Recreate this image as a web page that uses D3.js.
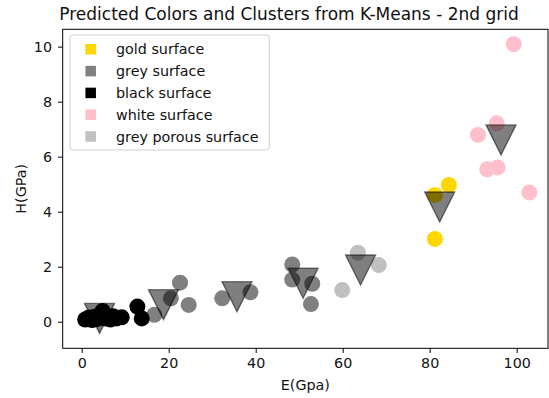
<!DOCTYPE html>
<html>
<head>
<meta charset="utf-8">
<script src="https://cdn.jsdelivr.net/npm/d3@7"></script>
<style>
    body { margin: 0; background: #fff; }
    svg { display: block; font-family: "DejaVu Sans", sans-serif; }
</style>
</head>
<body>
<div class="canvas"></div>
<script>
// values: [E(Gpa), H(GPa)]
const goldPoints = [[81.2, 4.61], [84.4, 4.97], [81.2, 3.01]];
const greyPoints = [[16.7, 0.25], [20.5, 0.85], [22.6, 1.42], [24.6, 0.61], [32.3, 0.85],
    [38.8, 1.07], [48.4, 2.08], [48.4, 1.53], [53.0, 1.38], [52.7, 0.64]];
const blackPoints = [[0.8, 0.08], [1.6, 0.15], [2.4, 0.06], [3.0, 0.18], [3.6, 0.1], [4.2, 0.2],
    [4.8, 0.39], [5.3, 0.12], [6.0, 0.18], [6.6, 0.08], [7.2, 0.2], [8.0, 0.12], [9.2, 0.16],
    [12.8, 0.55], [13.8, 0.12]];
const whitePoints = [[99.3, 10.09], [95.4, 7.21], [91.1, 6.79], [93.2, 5.54], [95.6, 5.61], [102.9, 4.7]];
const porousPoints = [[63.5, 2.51], [68.3, 2.06], [59.9, 1.15]];
const centroids = [[4.1, 0.12], [18.8, 0.62], [35.7, 0.91], [50.9, 1.4], [64.1, 1.88], [82.3, 4.17], [96.4, 6.61]];

const categories = ["gold surface", "grey surface", "black surface", "white surface", "grey porous surface"];
const categoryPoints = [goldPoints, greyPoints, blackPoints, whitePoints, porousPoints];
const xTicks = [0, 20, 40, 60, 80, 100];
const yTicks = [0, 2, 4, 6, 8, 10];

const svgSpec = {width: 549, height: 398, margin: {top: 29.3, right: 1, bottom: 49.7, left: 62.7}};
const plotW = svgSpec.width - svgSpec.margin.left - svgSpec.margin.right;
const plotH = svgSpec.height - svgSpec.margin.top - svgSpec.margin.bottom;
const fontSize = "14.3px";

const color = d3.scaleOrdinal()
    .domain(categories)
    .range(["#FFD700", "#808080", "#000000", "#FFC0CB", "#C0C0C0"]);

const svg = d3.select(".canvas").append("svg")
    .attr("width", svgSpec.width)
    .attr("height", svgSpec.height);

const graph = svg.append("g")
    .attr("transform", `translate(${svgSpec.margin.left}, ${svgSpec.margin.top})`);

const x = d3.scaleLinear().domain([-4.37, 107.2]).range([0, plotW]);
const y = d3.scaleLinear().domain([-0.967, 10.63]).range([plotH, 0]);

// axes
const xAxisGroup = graph.append("g")
    .attr("transform", `translate(0, ${plotH})`)
    .call(d3.axisBottom(x).tickValues(xTicks).tickSize(4.7).tickPadding(5.2).tickSizeOuter(0));
const yAxisGroup = graph.append("g")
    .call(d3.axisLeft(y).tickValues(yTicks).tickSize(4.7).tickPadding(6).tickSizeOuter(0));

[xAxisGroup, yAxisGroup].forEach(g => {
    g.select(".domain").remove();
    g.selectAll("line").attr("stroke", "#000").attr("stroke-width", 1);
    g.selectAll("text").attr("fill", "#111").style("font-size", fontSize)
        .style("font-family", "DejaVu Sans, sans-serif");
});

// scatter points, one layer per category
const r = 8;
categories.forEach((cat, i) => {
    graph.append("g").selectAll("circle")
        .data(categoryPoints[i])
        .enter()
        .append("circle")
        .attr("cx", d => x(d[0]))
        .attr("cy", d => y(d[1]))
        .attr("r", r)
        .style("fill", color(cat));
});

// cluster centers (triangle down, black at half alpha)
const tri = 15;
graph.append("g").selectAll("path")
    .data(centroids)
    .enter()
    .append("path")
    .attr("transform", d => `translate(${x(d[0])}, ${y(d[1])})`)
    .attr("d", `M${-tri},${-tri}L${tri},${-tri}L0,${tri}Z`)
    .attr("fill", "#000")
    .attr("fill-opacity", 0.5)
    .attr("stroke", "#000")
    .attr("stroke-opacity", 0.5)
    .attr("stroke-width", 1.4)
    .attr("stroke-linejoin", "miter");

// frame
graph.append("rect")
    .attr("width", plotW)
    .attr("height", plotH)
    .attr("fill", "none")
    .attr("stroke", "#000")
    .attr("stroke-width", 1);

// legend
const legendGroup = svg.append("g").attr("transform", "translate(70, 35)");
legendGroup.append("rect")
    .attr("width", 199.3)
    .attr("height", 115)
    .attr("rx", 3)
    .attr("fill", "#fff")
    .attr("fill-opacity", 0.8)
    .attr("stroke", "#d0d0d0")
    .attr("stroke-width", 1);

const gap = 21.8;
const sq = 10.5;
legendGroup.selectAll("legendSymbol")
    .data(categories)
    .enter()
    .append("rect")
    .attr("x", 20.7 - sq / 2)
    .attr("y", (d, i) => 14.3 + i * gap - sq / 2)
    .attr("width", sq)
    .attr("height", sq)
    .style("fill", d => color(d));

legendGroup.selectAll("legendLabels")
    .data(categories)
    .enter()
    .append("text")
    .attr("x", 46)
    .attr("y", (d, i) => 14.3 + i * gap)
    .attr("dy", "0.36em")
    .style("font-size", fontSize)
    .attr("fill", "#111")
    .text(d => d);

// labels
svg.append("text")
    .attr("x", 289)
    .attr("y", 20)
    .attr("text-anchor", "middle")
    .style("font-size", "17px")
    .attr("fill", "#111")
    .text("Predicted Colors and Clusters from K-Means - 2nd grid");

svg.append("text")
    .attr("x", svgSpec.margin.left + plotW / 2)
    .attr("y", 390)
    .attr("text-anchor", "middle")
    .style("font-size", fontSize)
    .attr("fill", "#111")
    .text("E(Gpa)");

svg.append("text")
    .attr("transform", `translate(26, ${svgSpec.margin.top + plotH / 2}) rotate(-90)`)
    .attr("text-anchor", "middle")
    .style("font-size", fontSize)
    .attr("fill", "#111")
    .text("H(GPa)");
</script>
</body>
</html>
